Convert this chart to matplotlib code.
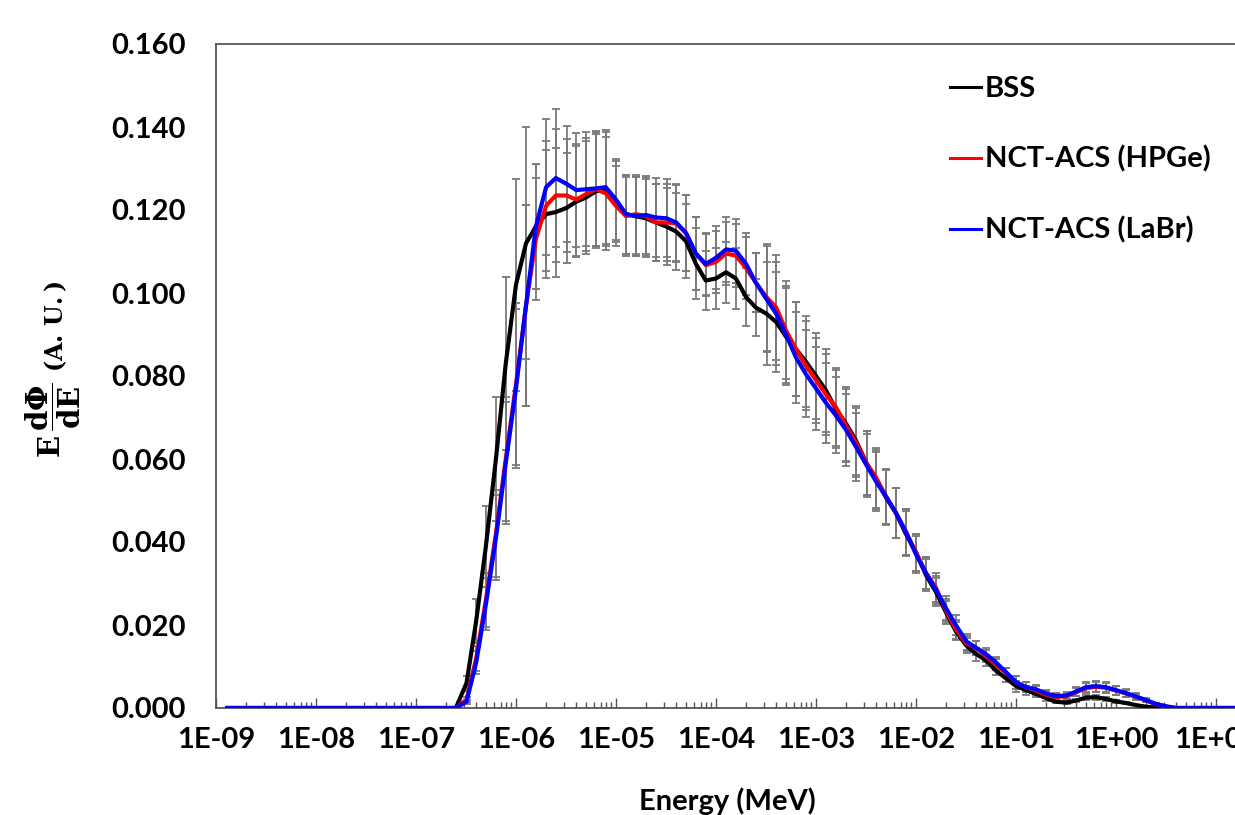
import numpy as np
import matplotlib
matplotlib.use("Agg")
import matplotlib.pyplot as plt
from matplotlib.ticker import LogLocator, FuncFormatter, NullFormatter, MultipleLocator

# energy bins (MeV)
energy = [1.3e-9, 1e-8, 1e-7,
          2e-7, 2.5e-7, 3.2e-7, 4e-7, 5e-7, 6.3e-7, 7.9e-7,
          1e-6, 1.26e-6, 1.58e-6, 2e-6, 2.5e-6, 3.2e-6, 4e-6, 5e-6, 6.3e-6, 7.9e-6,
          1e-5, 1.26e-5, 1.58e-5, 2e-5, 2.5e-5, 3.2e-5, 4e-5, 5e-5, 6.3e-5, 7.9e-5,
          1e-4, 1.26e-4, 1.58e-4, 2e-4, 2.5e-4, 3.2e-4, 4e-4, 5e-4, 6.3e-4, 7.9e-4,
          1e-3, 1.26e-3, 1.58e-3, 2e-3, 2.5e-3, 3.2e-3, 4e-3, 5e-3, 6.3e-3, 7.9e-3,
          1e-2, 1.26e-2, 1.58e-2, 2e-2, 2.5e-2, 3.2e-2, 4e-2, 5e-2, 6.3e-2, 7.9e-2,
          1e-1, 1.26e-1, 1.58e-1, 2e-1, 2.5e-1, 3.2e-1, 4e-1, 5e-1, 6.3e-1, 7.9e-1,
          1.0, 1.26, 1.58, 2.0, 2.5, 3.2, 4.0,
          10.0, 20.0]

bss = [0, 0, 0,
       0, 0, 0.006, 0.021, 0.039, 0.060, 0.083,
       0.102, 0.112, 0.116, 0.119, 0.1195, 0.1205, 0.122, 0.123, 0.1245, 0.125,
       0.122, 0.119, 0.1185, 0.118, 0.117, 0.116, 0.1148, 0.1125, 0.107, 0.103,
       0.1035, 0.105, 0.1035, 0.099, 0.0965, 0.095, 0.093, 0.0895, 0.0865, 0.0835,
       0.080, 0.0765, 0.072, 0.0685, 0.0645, 0.059, 0.055, 0.0508, 0.047, 0.042,
       0.0375, 0.032, 0.028, 0.023, 0.0185, 0.015, 0.013, 0.0115, 0.009, 0.0072,
       0.0053, 0.0043, 0.0034, 0.0024, 0.0015, 0.0013, 0.0018, 0.0025, 0.0026, 0.0022,
       0.0016, 0.0012, 0.0007, 0.0003, 0.0001, 0, 0,
       0, 0]

hpge = [0, 0, 0,
        0, 0, 0.002, 0.012, 0.026, 0.042, 0.060,
        0.078, 0.097, 0.113, 0.121, 0.1235, 0.1235, 0.1225, 0.1238, 0.125, 0.124,
        0.121, 0.1185, 0.119, 0.1185, 0.117, 0.117, 0.1168, 0.1145, 0.1095, 0.1067,
        0.1075, 0.1095, 0.109, 0.106, 0.1025, 0.099, 0.0965, 0.091, 0.0865, 0.0825,
        0.079, 0.0755, 0.0725, 0.068, 0.064, 0.059, 0.0555, 0.051, 0.047, 0.0425,
        0.0375, 0.0325, 0.029, 0.0235, 0.019, 0.0155, 0.0145, 0.0125, 0.0105, 0.0085,
        0.0062, 0.005, 0.0042, 0.0032, 0.0027, 0.0028, 0.0038, 0.0048, 0.0051, 0.0049,
        0.0042, 0.0035, 0.0027, 0.0018, 0.0009, 0.0003, 0,
        0, 0]

labr = [0, 0, 0,
        0, 0, 0.0015, 0.011, 0.025, 0.041, 0.059,
        0.077, 0.097, 0.116, 0.1255, 0.1277, 0.1263, 0.1248, 0.125, 0.1252, 0.1255,
        0.1225, 0.119, 0.1185, 0.1188, 0.1182, 0.118, 0.117, 0.1145, 0.1095, 0.107,
        0.1085, 0.1105, 0.1102, 0.107, 0.1025, 0.0985, 0.095, 0.090, 0.0845, 0.0805,
        0.077, 0.0735, 0.0705, 0.067, 0.063, 0.0585, 0.0545, 0.051, 0.047, 0.0425,
        0.037, 0.0325, 0.0285, 0.024, 0.020, 0.016, 0.0145, 0.013, 0.011, 0.0087,
        0.0062, 0.005, 0.0045, 0.0035, 0.0029, 0.003, 0.004, 0.005, 0.0053, 0.005,
        0.0043, 0.0036, 0.0028, 0.0019, 0.001, 0.0004, 0,
        0, 0]

# relative uncertainty
rel_err = [0, 0, 0,
           0.3, 0.3, 0.3, 0.25, 0.25, 0.25, 0.25,
           0.25, 0.25, 0.13, 0.13, 0.13, 0.11, 0.11, 0.11, 0.11, 0.11,
           0.08, 0.08, 0.08, 0.08, 0.08, 0.08, 0.08, 0.08, 0.08, 0.07,
           0.07, 0.07, 0.07, 0.07, 0.07, 0.13, 0.13, 0.13, 0.13, 0.13,
           0.13, 0.13, 0.13, 0.13, 0.13, 0.13, 0.13, 0.13, 0.13, 0.13,
           0.12, 0.12, 0.12, 0.12, 0.12, 0.12, 0.12, 0.12, 0.12, 0.12,
           0.25, 0.25, 0.25, 0.25, 0.25, 0.25, 0.25, 0.25, 0.25, 0.25,
           0.25, 0.25, 0.25, 0.25, 0.25, 0.25, 0.25,
           0, 0]

plt.rcParams['font.family'] = ['Lato', 'DejaVu Sans']
plt.rcParams['font.weight'] = 'bold'
plt.rcParams['mathtext.fontset'] = 'dejavuserif'

fig = plt.figure(figsize=(12.35, 8.15), dpi=100)
ax = fig.add_axes([216/1235, 107/815, 1100/1235, 664/815])

E = np.array(energy)
err = np.array(rel_err)
for vals in (bss, hpge, labr):
    v = np.array(vals)
    m = v > 0.0008
    ax.errorbar(E[m], v[m], yerr=v[m]*err[m], fmt='none', ecolor='#7a7a7a',
                elinewidth=1.3, capsize=3, capthick=1.3, zorder=1)

ax.plot(energy, bss, color='black', lw=3, label='BSS', zorder=3)
ax.plot(energy, hpge, color='#ff0000', lw=3, label='NCT-ACS (HPGe)', zorder=4)
ax.plot(energy, labr, color='#0000ff', lw=3, label='NCT-ACS (LaBr)', zorder=5)

ax.set_xscale('log')
ax.set_xlim(1e-9, 1e2)
ax.set_ylim(0, 0.16)
ax.yaxis.set_major_locator(MultipleLocator(0.02))
ax.yaxis.set_major_formatter(FuncFormatter(lambda v, p: f'{v:.3f}'))
ax.xaxis.set_major_locator(LogLocator(base=10, numticks=20))
ax.xaxis.set_minor_locator(LogLocator(base=10, subs=np.arange(2, 10), numticks=20))
ax.xaxis.set_minor_formatter(NullFormatter())
ax.xaxis.set_major_formatter(FuncFormatter(lambda v, p: f'1E{int(round(np.log10(v))):+03d}'))

ax.tick_params(axis='x', which='major', direction='in', length=7, width=1, colors='#555555',
               labelcolor='black', labelsize=21, pad=14)
ax.tick_params(axis='x', which='minor', direction='in', length=4.5, width=1, colors='#555555')
ax.tick_params(axis='y', length=0, labelsize=21, pad=22)

for s in ['left', 'bottom', 'top', 'right']:
    ax.spines[s].set_color('#555555')
    ax.spines[s].set_linewidth(1.3)

ax.set_xlabel('Energy (MeV)', fontsize=21, fontweight='bold')
ax.xaxis.set_label_coords((727 - 216) / 1100, -0.12)

# y label: E dPhi/dE (A. U.), built from two rotated pieces
fig.text(53/1235, 1 - 458/815, r'$\mathbf{E}\,\dfrac{\mathbf{d\Phi}}{\mathbf{dE}}$',
         rotation=90, ha='center', va='bottom', fontsize=21, fontweight='normal')
fig.text(56/1235, 1 - 372/815, r'$(\mathrm{A.\,U.})$',
         rotation=90, ha='center', va='bottom', fontsize=17, fontweight='normal')

leg = ax.legend(loc='upper left', bbox_to_anchor=(950/1235, 1 - 76/815),
                bbox_transform=fig.transFigure, frameon=False, fontsize=21,
                handlelength=1.05, handletextpad=0.15, labelspacing=1.5,
                borderaxespad=0, borderpad=0)
for h in leg.legend_handles:
    h.set_linewidth(2.2)

fig.savefig('out.png', dpi=100)
